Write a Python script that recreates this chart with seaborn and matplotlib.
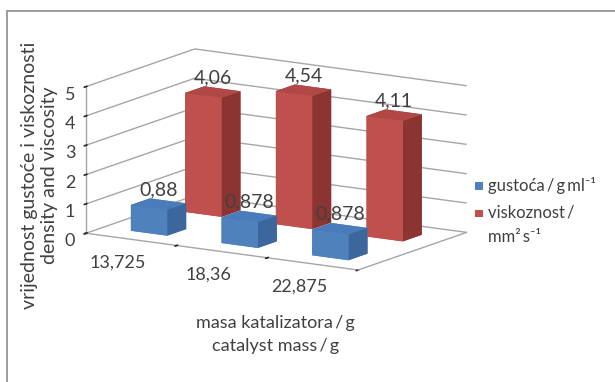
import numpy as np
import matplotlib
matplotlib.use("Agg")
import matplotlib.pyplot as plt
import seaborn as sns
from matplotlib.patches import Rectangle

# Catalyst mass (g) and measured properties
categories = ["13,725", "18,36", "22,875"]
density = [0.88, 0.878, 0.878]
viscosity = [4.06, 4.54, 4.11]
density_labels = ["0,88", "0,878", "0,878"]
viscosity_labels = ["4,06", "4,54", "4,11"]
series_names = ["gustoća\u2009/\u2009g\u2009ml⁻¹", "viskoznost\u2009/", "mm²\u2009s⁻¹"]
z_ticks = [0, 1, 2, 3, 4, 5]

sns.set_theme(style="white")
plt.rcParams["font.family"] = ["Lato", "DejaVu Sans"]

TEXT = "#404040"
GRID = "#a6a6a6"
# face colours: front, top, right side
BLUE = {"front": "#4f81bd", "top": "#4a7cbc", "side": "#3c679c"}
RED = {"front": "#c0504d", "top": "#b04846", "side": "#8b3432"}

fig = plt.figure(figsize=(6.15, 3.82), dpi=100)
ax = fig.add_axes([0.016, 0.069, 0.85, 1.0], projection="3d")
ax.set_proj_type("ortho")
ax.view_init(elev=12.5, azim=-58)
ax.set_box_aspect((3.16, 2.02, 1.48), zoom=1.04)

n = len(categories)
xs = np.arange(n, dtype=float)
w, d = 0.4, 0.35

bx, by, bz, cols = [], [], [], []
for depth, (vals, pal) in enumerate([(density, BLUE), (viscosity, RED)]):
    for i, v in enumerate(vals):
        bx.append(xs[i] - w / 2)
        by.append(depth - d / 2)
        bz.append(v)
        # bar3d face order: bottom, top, -y, +y, -x, +x
        cols += [pal["front"], pal["top"], pal["front"], pal["front"],
                 pal["side"], pal["side"]]

ax.bar3d(bx, by, np.zeros(len(bx)), w, d, bz, color=cols, shade=False,
         linewidth=0)

ax.set_xlim(-0.5, n - 0.5)
ax.set_ylim(-0.5, 1.5)
ax.set_zlim(0, 5)

ax.set_xticks(np.arange(n + 1) - 0.5)
ax.set_xticklabels([])
ax.set_yticks([])
ax.set_zticks(z_ticks)
ax.set_zticklabels([str(t) for t in z_ticks], fontsize=13, color=TEXT)
ax.zaxis.set_ticks_position("lower")
ax.zaxis.set_tick_params(pad=-2)

for a in (ax.xaxis, ax.yaxis, ax.zaxis):
    a.set_pane_color((1, 1, 1, 0))
    a.pane.set_edgecolor((1, 1, 1, 0))
    a.line.set_color(GRID)
    a.line.set_linewidth(1.0)
    a._axinfo["tick"]["color"] = GRID
ax.xaxis._axinfo["grid"]["linewidth"] = 0
ax.yaxis._axinfo["grid"]["linewidth"] = 0
ax.zaxis._axinfo["grid"].update(color=GRID, linewidth=1.0, linestyle="-")

# value labels above each bar
for depth, (vals, labs) in enumerate([(density, density_labels),
                                      (viscosity, viscosity_labels)]):
    for i, v in enumerate(vals):
        ax.text(xs[i], depth, v + 0.2, labs[i], ha="center", va="bottom",
                fontsize=14, color=TEXT, zorder=10)

# category labels along the front edge
for i, c in enumerate(categories):
    ax.text(xs[i] - 0.15, -0.5, -0.85, c, ha="center", va="center",
            fontsize=13, color=TEXT)

fig.text(0.064, 0.54, "vrijednost gustoće i viskoznosti\ndensity and viscosity",
         rotation=90, ha="center", va="center", fontsize=14, color=TEXT,
         linespacing=1.2)
fig.text(0.448, 0.125, "masa katalizatora\u2009/\u2009g\ncatalyst mass\u2009/\u2009g",
         ha="center", va="center", fontsize=13, color=TEXT, linespacing=1.5)

# legend: colour squares with their labels
W, H = 615, 382
for (colour, ytop) in [(BLUE["front"], 182), (RED["front"], 210)]:
    fig.add_artist(Rectangle((475 / W, 1 - (ytop + 7.5) / H), 8 / W, 7.5 / H,
                             transform=fig.transFigure, color=colour,
                             linewidth=0))
for label, yc in zip(series_names, [186, 213, 237]):
    fig.text(488 / W, 1 - yc / H, label, ha="left", va="center",
             fontsize=12, color=TEXT)

fig.add_artist(Rectangle((7 / W, -0.1), 1.2, 1 - 11 / H + 0.1,
                         transform=fig.transFigure, fill=False,
                         edgecolor="#8c8c8c", linewidth=1.2))

fig.savefig("out.png", dpi=100)
